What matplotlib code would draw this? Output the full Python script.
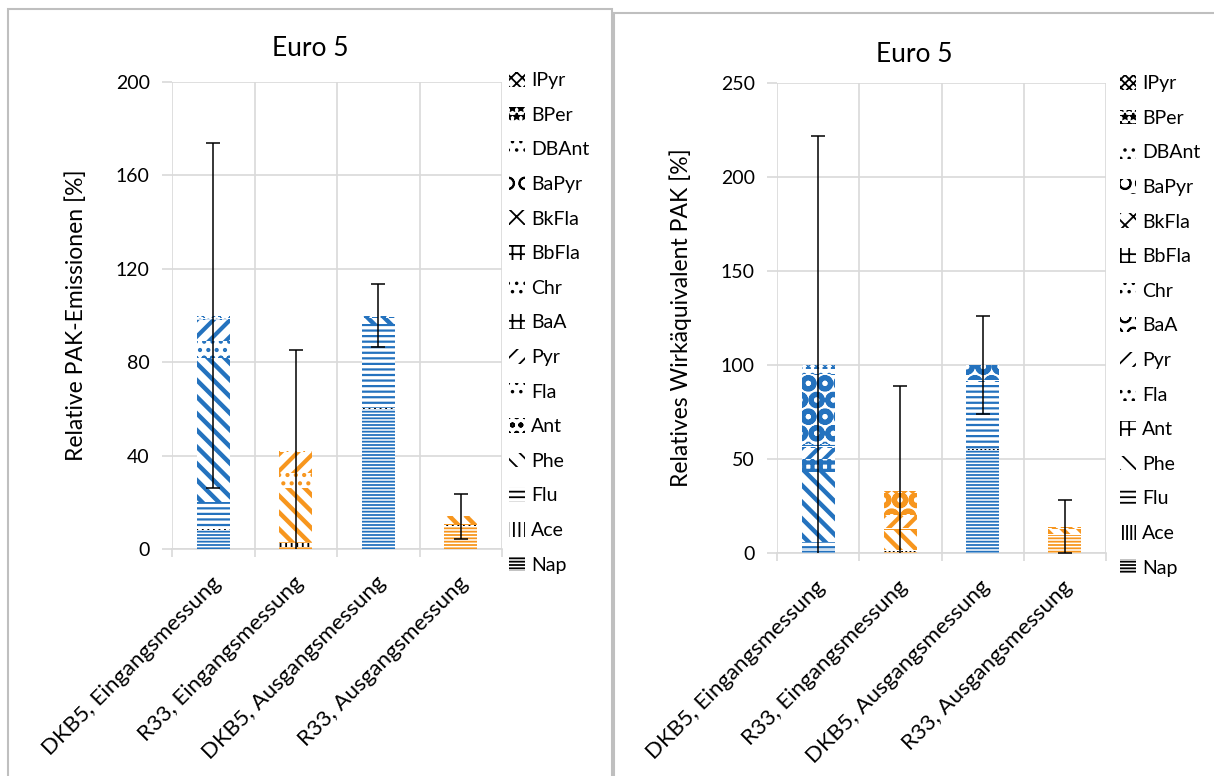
import numpy as np
import matplotlib
matplotlib.use("Agg")
from matplotlib import pyplot as plt
from matplotlib.patches import Patch, Rectangle
from matplotlib.transforms import ScaledTranslation

plt.rcParams['font.family'] = ['Lato', 'DejaVu Sans']
plt.rcParams['hatch.linewidth'] = 1.3

categories = ["DKB5, Eingangsmessung", "R33, Eingangsmessung",
              "DKB5, Ausgangsmessung", "R33, Ausgangsmessung"]
compounds = ["Nap", "Ace", "Flu", "Phe", "Ant", "Fla", "Pyr", "BaA",
             "Chr", "BbFla", "BkFla", "BaPyr", "DBAnt", "BPer", "IPyr"]

# relative PAK-Emissionen [%], one list per compound (4 bars)
em_nap = [8.0, 1.0, 60.0, 10.0]
em_ace = [0.5, 1.5, 0.5, 0.3]
em_flu = [11.5, 0.5, 36.0, 0.2]
em_phe = [62.0, 23.0, 2.5, 3.0]
em_ant = [1.0, 0.5, 0.2, 0.0]
em_fla = [6.0, 6.0, 0.2, 0.0]
em_pyr = [9.0, 9.0, 0.2, 0.5]
em_baa = [0.5, 0.1, 0.1, 0.0]
em_chr = [0.5, 0.1, 0.1, 0.0]
em_bbfla = [0.3, 0.1, 0.05, 0.0]
em_bkfla = [0.2, 0.05, 0.05, 0.0]
em_bapyr = [0.2, 0.05, 0.05, 0.0]
em_dbant = [0.1, 0.05, 0.0, 0.0]
em_bper = [0.1, 0.05, 0.0, 0.0]
em_ipyr = [0.1, 0.05, 0.0, 0.0]
em_err = [74.0, 43.0, 13.5, 9.7]

# relatives Wirkaequivalent PAK [%]
tq_nap = [2.0, 0.3, 55.0, 9.5]
tq_ace = [0.3, 0.7, 0.5, 0.3]
tq_flu = [3.7, 0.5, 35.5, 0.2]
tq_phe = [37.0, 11.0, 0.5, 3.0]
tq_ant = [6.5, 0.5, 0.2, 0.0]
tq_fla = [0.5, 0.5, 0.1, 0.0]
tq_pyr = [6.0, 6.0, 0.2, 0.3]
tq_baa = [0.5, 0.2, 0.0, 0.0]
tq_chr = [0.5, 0.1, 0.0, 0.0]
tq_bbfla = [1.0, 0.1, 0.0, 0.0]
tq_bkfla = [1.0, 0.1, 0.0, 0.0]
tq_bapyr = [36.0, 12.0, 8.0, 0.5]
tq_dbant = [3.0, 0.5, 0.0, 0.2]
tq_bper = [1.0, 0.3, 0.0, 0.0]
tq_ipyr = [1.0, 0.2, 0.0, 0.0]
tq_err = [122.0, 56.0, 26.0, 14.0]

emission_series = [em_nap, em_ace, em_flu, em_phe, em_ant, em_fla, em_pyr, em_baa,
                   em_chr, em_bbfla, em_bkfla, em_bapyr, em_dbant, em_bper, em_ipyr]
toxic_series = [tq_nap, tq_ace, tq_flu, tq_phe, tq_ant, tq_fla, tq_pyr, tq_baa,
                tq_chr, tq_bbfla, tq_bkfla, tq_bapyr, tq_dbant, tq_bper, tq_ipyr]

BLUE = "#2472BE"
ORANGE = "#F7961E"
bar_colors = [BLUE, ORANGE, BLUE, ORANGE]
GRID = "#D9D9D9"

# (hatch, hatch linewidth) per compound
style_left = [("-----", 1.3), ("|||", 1.3), ("---", 1.6), ("\\\\", 3.2), ("oo", 1.5),
              ("..", 1.8), ("//", 3.0), ("++", 1.5), ("..", 1.3), ("++", 1.3),
              ("xx", 1.3), ("O", 1.5), ("..", 1.3), ("**", 1.3), ("xxx", 1.0)]
style_right = [("-----", 1.3), ("||||", 1.3), ("---", 1.6), ("\\\\", 3.2), ("++", 3.0),
               ("..", 1.8), ("//", 3.0), ("O", 2.5), ("..", 1.3), ("++", 1.3),
               ("xx", 1.3), ("O", 3.5), ("..", 2.0), ("**", 1.3), ("xxxx", 1.0)]

W, H = 1214, 776


def draw_panel(fig, rect, series, errors, styles, ymax, ystep, ylabel, legend_xy):
    ax = fig.add_axes(rect)
    x = np.arange(len(categories))
    bottom = np.zeros(len(categories))
    handles = []
    for name, vals, (h, hlw) in zip(compounds, series, styles):
        vals = np.array(vals)
        hatch_col = ["black" if name == "Ace" else c for c in bar_colors]
        with plt.rc_context({"hatch.linewidth": hlw}):
            ax.bar(x, vals, 0.4, bottom=bottom, color="white", edgecolor=hatch_col,
                   hatch=h, linewidth=0, zorder=3)
            handles.append(Patch(facecolor="white", edgecolor="black", hatch=h,
                                 linewidth=0))
        bottom += vals
    ax.errorbar(x, bottom, yerr=errors, fmt="none", ecolor="black", elinewidth=1.1,
                capsize=5, capthick=1.1, zorder=4)

    ax.set_xlim(-0.5, len(categories) - 0.5)
    ax.set_ylim(0, ymax)
    ax.set_yticks(np.arange(0, ymax + 1, ystep))
    ax.set_xticks(x)
    ax.set_xticklabels([])
    # category labels, rotated, ending just below the bar
    lab_trans = ax.get_xaxis_transform() + ScaledTranslation(0.04, -0.31, fig.dpi_scale_trans)
    for xi, cat in zip(x, categories):
        ax.text(xi, 0, cat, transform=lab_trans, rotation=45, ha="right", va="center",
                rotation_mode="anchor", fontsize=16)
    ax.set_xticks(np.arange(-0.5, len(categories)), minor=True)
    ax.tick_params(axis="x", which="major", length=0)
    ax.tick_params(axis="x", which="minor", length=6, color=GRID, width=1.2)
    ax.tick_params(axis="y", length=7, color=GRID, width=1.2, labelsize=14, pad=9)
    ax.grid(axis="y", color=GRID, linewidth=1.2, zorder=0)
    ax.grid(axis="x", which="minor", color=GRID, linewidth=1.2, zorder=0)
    for s in ["top", "right", "left"]:
        ax.spines[s].set_visible(False)
    ax.spines["bottom"].set_color(GRID)
    ax.spines["bottom"].set_linewidth(1.2)
    ax.set_ylabel(ylabel, fontsize=16.5, labelpad=21)

    ax.legend(handles[::-1], compounds[::-1], loc="upper left",
              bbox_to_anchor=legend_xy, bbox_transform=fig.transFigure,
              frameon=False, fontsize=14, handlelength=0.8, handleheight=0.8,
              handletextpad=0.35, labelspacing=0.895, borderpad=0, borderaxespad=0)
    return ax


fig = plt.figure(figsize=(W / 100, H / 100), dpi=100)

draw_panel(fig, [172 / W, 1 - 549 / H, 330 / W, 467 / H], emission_series, em_err,
           style_left, 200, 40, "Relative PAK-Emissionen [%]", (509 / W, 1 - 72 / H))
draw_panel(fig, [777 / W, 1 - 553 / H, 329 / W, 470 / H], toxic_series, tq_err,
           style_right, 250, 50, "Relatives Wirkäquivalent PAK [%]", (1120 / W, 1 - 75 / H))

fig.text(310 / W, 1 - 48 / H, "Euro 5", ha="center", va="center", fontsize=19)
fig.text(914 / W, 1 - 55 / H, "Euro 5", ha="center", va="center", fontsize=19)

# chart frames
fig.patches.append(Rectangle((8 / W, -0.1), 604 / W, 1.1 - 9 / H, transform=fig.transFigure,
                             fill=False, edgecolor="#BFBFBF", linewidth=1.5))
fig.patches.append(Rectangle((614 / W, -0.1), 700 / W, 1.1 - 13 / H, transform=fig.transFigure,
                             fill=False, edgecolor="#BFBFBF", linewidth=1.5))

fig.savefig("out.png", dpi=100, facecolor="white")
